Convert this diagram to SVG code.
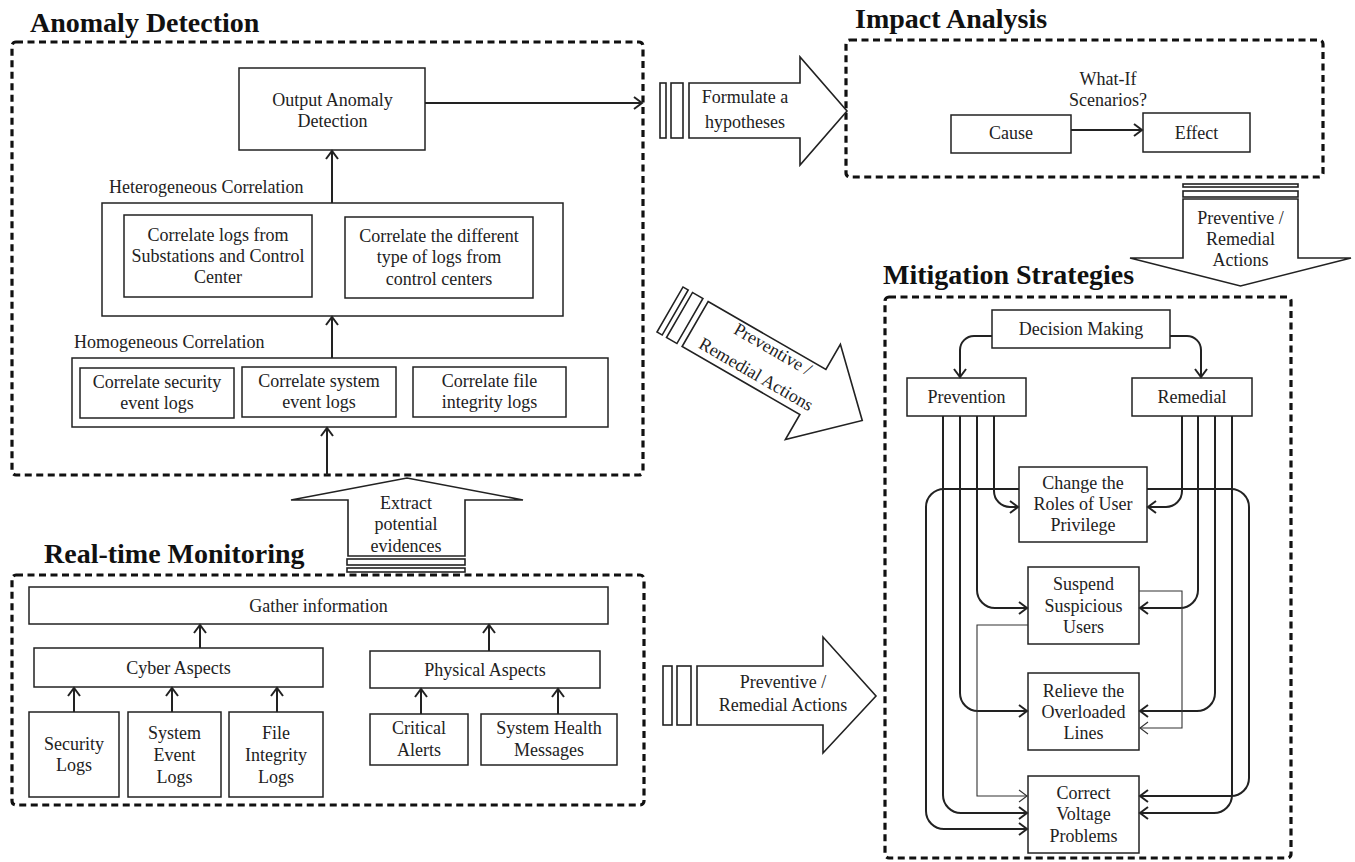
<svg xmlns="http://www.w3.org/2000/svg" width="1355" height="862" viewBox="0 0 1355 862">
<style>
.bg{fill:#fff}
.box{fill:#fff;stroke:#222;stroke-width:1.5}
.dash{fill:none;stroke:#111;stroke-width:3.2;stroke-dasharray:7 4.5}
.t{font-family:"Liberation Serif","Times New Roman",serif;font-size:18px;fill:#222;text-anchor:middle}
.lbl{font-family:"Liberation Serif","Times New Roman",serif;font-size:18px;fill:#222}
.title{font-family:"Liberation Serif","Times New Roman",serif;font-size:28px;font-weight:bold;fill:#111}
.conn{fill:none;stroke:#222;stroke-width:2}
.thin{fill:none;stroke:#333;stroke-width:1.1}
.big{fill:#fff;stroke:#222;stroke-width:1.6}
</style>
<defs>
<marker id="ah" viewBox="-10 -7 12 14" refX="0" refY="0" markerWidth="12" markerHeight="14" markerUnits="userSpaceOnUse" orient="auto"><path d="M-8,-6 L0,0 L-8,6" fill="none" stroke="#222" stroke-width="2"/></marker>
<marker id="aht" viewBox="-10 -7 12 14" refX="0" refY="0" markerWidth="12" markerHeight="14" markerUnits="userSpaceOnUse" orient="auto"><path d="M-8,-6 L0,0 L-8,6" fill="none" stroke="#333" stroke-width="1.1"/></marker>
</defs>
<rect class="bg" x="0" y="0" width="1355" height="862"/>

<!-- Anomaly Detection -->
<g id="anomaly-detection">
<text class="title" x="30" y="32">Anomaly Detection</text>
<rect class="dash" x="12" y="42" width="631" height="433" rx="4"/>
</g>
<g id="output-anomaly"><rect class="box" x="239" y="68" width="186" height="82"/><text class="t" x="332.5" y="106">Output Anomaly</text><text class="t" x="332.5" y="127">Detection</text></g>
<g id="heterogeneous">
<text class="lbl" x="109" y="193">Heterogeneous Correlation</text>
<rect class="box" x="102" y="203" width="461" height="113"/>
</g>
<g id="het-1"><rect class="box" x="124" y="215" width="188" height="82"/><text class="t" x="218" y="241">Correlate logs from</text><text class="t" x="218" y="262">Substations and Control</text><text class="t" x="218" y="283">Center</text></g>
<g id="het-2"><rect class="box" x="345" y="217" width="188" height="81"/><text class="t" x="439" y="242">Correlate the different</text><text class="t" x="439" y="263">type of logs from</text><text class="t" x="439" y="285">control centers</text></g>
<g id="homogeneous">
<text class="lbl" x="74" y="348">Homogeneous Correlation</text>
<rect class="box" x="72" y="358" width="536" height="69"/>
</g>
<g id="hom-1"><rect class="box" x="80" y="368" width="154" height="50"/><text class="t" x="157" y="388">Correlate security</text><text class="t" x="157" y="409">event logs</text></g>
<g id="hom-2"><rect class="box" x="242" y="367" width="154" height="50"/><text class="t" x="319" y="387">Correlate system</text><text class="t" x="319" y="408">event logs</text></g>
<g id="hom-3"><rect class="box" x="413" y="367" width="153" height="50"/><text class="t" x="489.5" y="387">Correlate file</text><text class="t" x="489.5" y="408">integrity logs</text></g>

<!-- Impact Analysis -->
<g id="impact-analysis">
<text class="title" x="855" y="28">Impact Analysis</text>
<rect class="dash" x="846" y="40" width="477" height="137" rx="4"/>
<text class="t" x="1108" y="85">What-If</text><text class="t" x="1108" y="106">Scenarios?</text>
</g>
<g id="cause"><rect class="box" x="951" y="115" width="120" height="38"/><text class="t" x="1011" y="139">Cause</text></g>
<g id="effect"><rect class="box" x="1143" y="113" width="107" height="39"/><text class="t" x="1196.5" y="139">Effect</text></g>

<!-- Mitigation Strategies -->
<g id="mitigation-strategies">
<text class="title" x="883" y="284">Mitigation Strategies</text>
<rect class="dash" x="885" y="297" width="406" height="561" rx="4"/>
</g>
<g id="decision"><rect class="box" x="992" y="310" width="178" height="38"/><text class="t" x="1081" y="335">Decision Making</text></g>
<g id="prevention"><rect class="box" x="907" y="378" width="119" height="38"/><text class="t" x="966.5" y="403">Prevention</text></g>
<g id="remedial"><rect class="box" x="1132" y="378" width="120" height="38"/><text class="t" x="1192" y="403">Remedial</text></g>

<!-- Real-time Monitoring -->
<g id="realtime-monitoring">
<text class="title" x="44" y="563">Real-time Monitoring</text>
<rect class="dash" x="12" y="575" width="632" height="230" rx="4"/>
</g>
<g id="gather"><rect class="box" x="29" y="587" width="579" height="37"/><text class="t" x="318.5" y="612">Gather information</text></g>
<g id="cyber"><rect class="box" x="34" y="648" width="289" height="39"/><text class="t" x="178.5" y="674">Cyber Aspects</text></g>
<g id="physical"><rect class="box" x="370" y="651" width="230" height="37"/><text class="t" x="485" y="676">Physical Aspects</text></g>
<g id="security-logs"><rect class="box" x="29" y="712" width="90" height="85"/><text class="t" x="74" y="750">Security</text><text class="t" x="74" y="771">Logs</text></g>
<g id="system-event-logs"><rect class="box" x="128" y="712" width="93" height="85"/><text class="t" x="174.5" y="739">System</text><text class="t" x="174.5" y="761">Event</text><text class="t" x="174.5" y="783">Logs</text></g>
<g id="file-integrity-logs"><rect class="box" x="229" y="712" width="94" height="85"/><text class="t" x="276" y="739">File</text><text class="t" x="276" y="761">Integrity</text><text class="t" x="276" y="783">Logs</text></g>
<g id="critical-alerts"><rect class="box" x="370" y="714" width="98" height="51"/><text class="t" x="419" y="734">Critical</text><text class="t" x="419" y="756">Alerts</text></g>
<g id="system-health"><rect class="box" x="481" y="714" width="136" height="51"/><text class="t" x="549" y="734">System Health</text><text class="t" x="549" y="756">Messages</text></g>

<!-- Mitigation action boxes -->
<g id="change-roles"><rect class="box" x="1019" y="467" width="128" height="75"/><text class="t" x="1083" y="489">Change the</text><text class="t" x="1083" y="510">Roles of User</text><text class="t" x="1083" y="531">Privilege</text></g>
<g id="suspend"><rect class="box" x="1028" y="567" width="111" height="77"/><text class="t" x="1083.5" y="590">Suspend</text><text class="t" x="1083.5" y="612">Suspicious</text><text class="t" x="1083.5" y="633">Users</text></g>
<g id="relieve"><rect class="box" x="1028" y="673" width="111" height="77"/><text class="t" x="1083.5" y="697">Relieve the</text><text class="t" x="1083.5" y="718">Overloaded</text><text class="t" x="1083.5" y="739">Lines</text></g>
<g id="correct-voltage"><rect class="box" x="1028" y="776" width="111" height="77"/><text class="t" x="1083.5" y="799">Correct</text><text class="t" x="1083.5" y="820">Voltage</text><text class="t" x="1083.5" y="842">Problems</text></g>

<!-- Block arrows -->
<g id="arrow-formulate">
<rect class="big" x="660" y="83" width="6" height="55"/><rect class="big" x="671" y="83" width="12" height="55"/>
<polygon class="big" points="689,83 800,83 800,57 847,111 800,165 800,138 689,138"/>
<text class="t" x="745" y="103">Formulate a</text><text class="t" x="745" y="128">hypotheses</text>
</g>
<g id="arrow-impact-down">
<rect class="big" x="1183" y="184" width="115" height="3"/><rect class="big" x="1183" y="191" width="115" height="6"/>
<polygon class="big" points="1183,199 1298,199 1298,258 1351,258 1240.5,286 1130,258 1183,258"/>
<text class="t" x="1240.5" y="224">Preventive /</text><text class="t" x="1240.5" y="245">Remedial</text><text class="t" x="1240.5" y="266">Actions</text>
</g>
<g id="arrow-diagonal" transform="translate(754,358) rotate(30)">
<rect class="big" x="-97" y="-26" width="6" height="52"/><rect class="big" x="-86" y="-26" width="12" height="52"/>
<polygon class="big" points="-68,-26 68,-26 68,-55 125,0 68,55 68,26 -68,26"/>
<text class="t" x="12" y="-11">Preventive /</text><text class="t" x="10" y="19">Remedial Actions</text>
</g>
<g id="arrow-extract">
<polygon class="big" points="348,556 348,500 291,500 407,478 523,500 465,500 465,556"/>
<rect class="big" x="347" y="559" width="118" height="6"/><rect class="big" x="347" y="568" width="118" height="4"/>
<text class="t" x="406" y="509">Extract</text><text class="t" x="406" y="530">potential</text><text class="t" x="406" y="552">evidences</text>
</g>
<g id="arrow-bottom">
<rect class="big" x="663" y="666" width="9" height="59"/><rect class="big" x="677" y="666" width="14" height="59"/>
<polygon class="big" points="697,666 823,666 823,637 876,696 823,753 823,725 697,725"/>
<text class="t" x="783" y="688">Preventive /</text><text class="t" x="783" y="711">Remedial Actions</text>
</g>

<!-- Connectors -->
<g id="connectors">
<path class="conn" d="M425,103 H642" marker-end="url(#ah)"/>
<path class="conn" d="M332,203 V151" marker-end="url(#ah)"/>
<path class="conn" d="M332,358 V317" marker-end="url(#ah)"/>
<path class="conn" d="M327,475 V428" marker-end="url(#ah)"/>
<path class="conn" d="M1071,130 H1142" marker-end="url(#ah)"/>
<path class="conn" d="M200,648 V625" marker-end="url(#ah)"/>
<path class="conn" d="M489,651 V625" marker-end="url(#ah)"/>
<path class="conn" d="M74,712 V688" marker-end="url(#ah)"/>
<path class="conn" d="M172,712 V688" marker-end="url(#ah)"/>
<path class="conn" d="M277,712 V688" marker-end="url(#ah)"/>
<path class="conn" d="M421,714 V689" marker-end="url(#ah)"/>
<path class="conn" d="M558,714 V689" marker-end="url(#ah)"/>
<path class="conn" d="M992,336 H974 A14,14 0 0 0 960,350 V377" marker-end="url(#ah)"/>
<path class="conn" d="M1170,336 H1187 A14,14 0 0 1 1201,350 V377" marker-end="url(#ah)"/>
<path class="conn" d="M994,416 V491 A16,16 0 0 0 1010,507 H1018" marker-end="url(#ah)"/>
<path class="conn" d="M977,416 V590 A18,18 0 0 0 995,608 H1027" marker-end="url(#ah)"/>
<path class="conn" d="M960,416 V693 A18,18 0 0 0 978,711 H1027" marker-end="url(#ah)"/>
<path class="conn" d="M943,416 V795 A18,18 0 0 0 961,813 H1027" marker-end="url(#ah)"/>
<path class="conn" d="M1182,416 V491 A16,16 0 0 1 1166,507 H1148" marker-end="url(#ah)"/>
<path class="conn" d="M1198,416 V590 A18,18 0 0 1 1180,608 H1140" marker-end="url(#ah)"/>
<path class="conn" d="M1215,416 V693 A18,18 0 0 1 1197,711 H1140" marker-end="url(#ah)"/>
<path class="conn" d="M1232,416 V795 A18,18 0 0 1 1214,813 H1140" marker-end="url(#ah)"/>
<path class="conn" d="M1019,489 H944 A18,18 0 0 0 926,507 V811 A18,18 0 0 0 944,829 H1027" marker-end="url(#ah)"/>
<path class="conn" d="M1147,489 H1231 A18,18 0 0 1 1249,507 V778 A18,18 0 0 1 1231,796 H1140" marker-end="url(#ah)"/>
<path class="thin" d="M1139,591 H1182 V728 H1140" marker-end="url(#aht)"/>
<path class="thin" d="M1028,625 H977 V796 H1027" marker-end="url(#aht)"/>
</g>
</svg>
